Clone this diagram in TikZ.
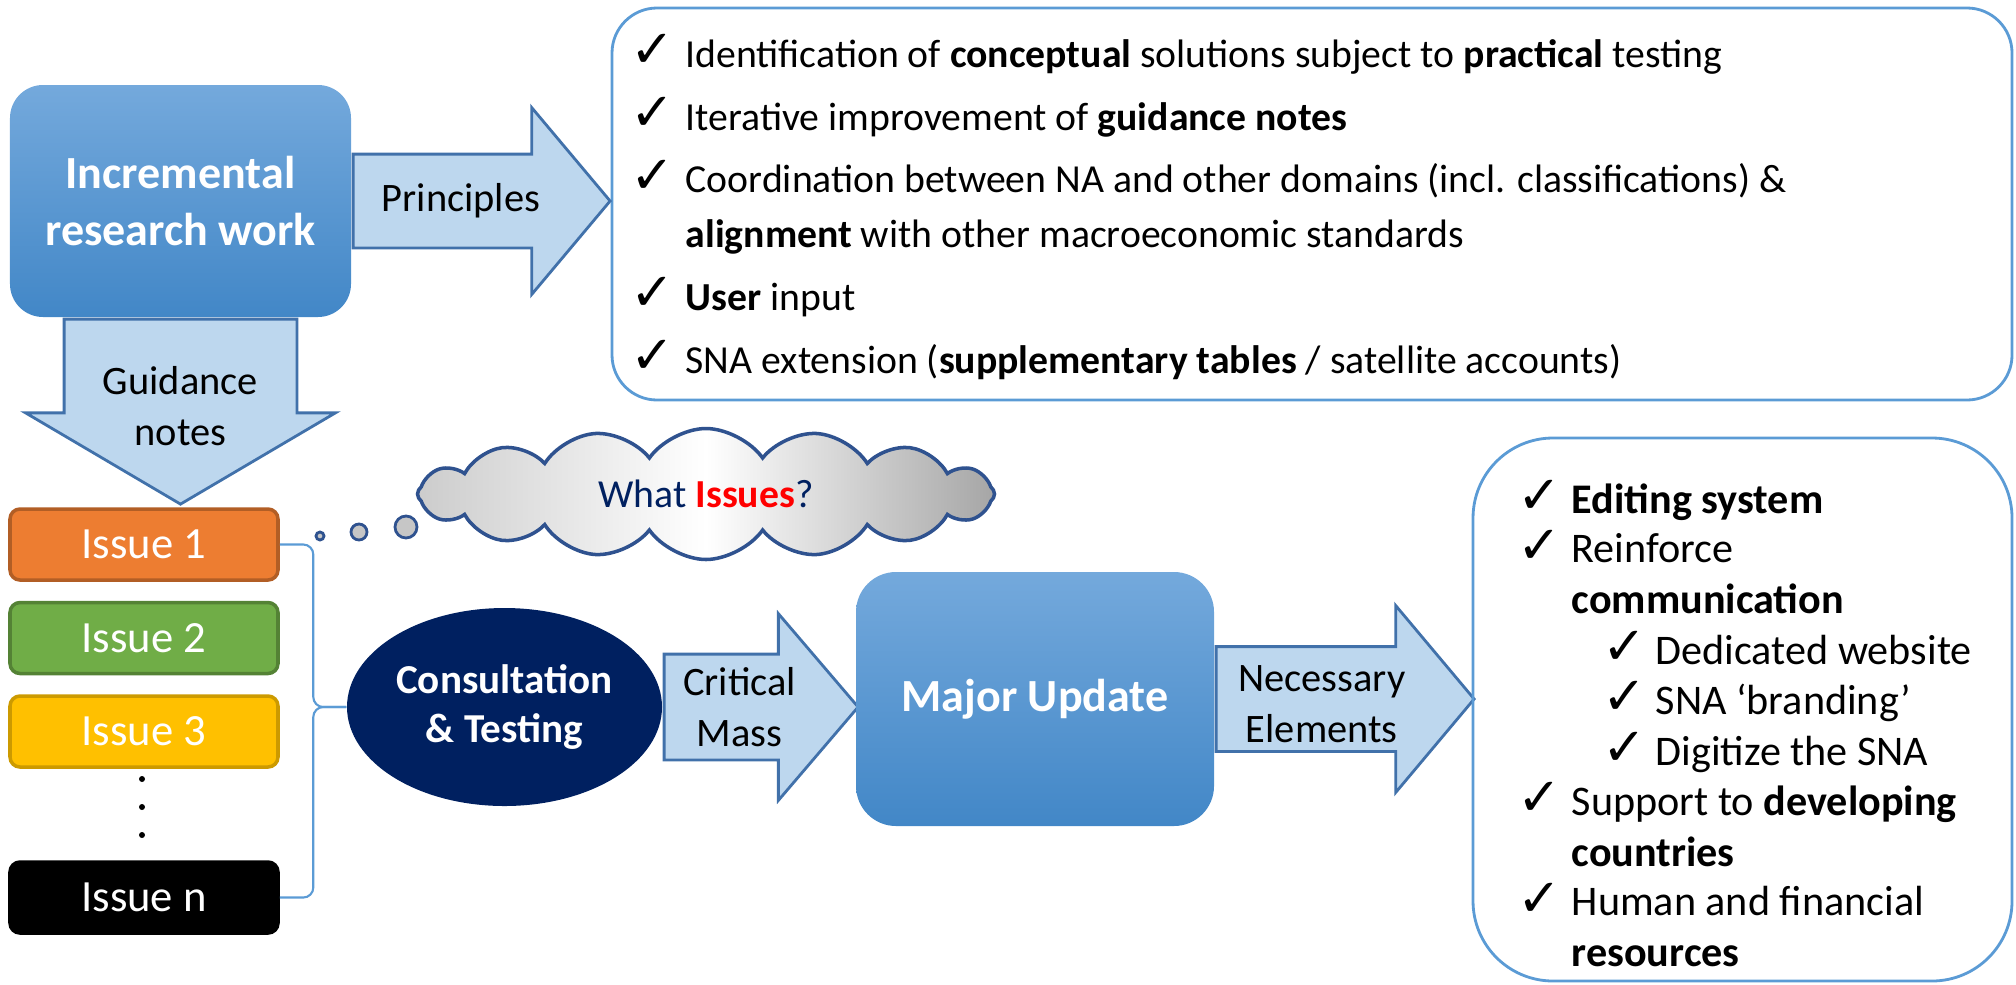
\documentclass[tikz,border=0pt]{standalone}
\usepackage{fontspec}
\setmainfont{Carlito}
\newfontfamily\symfont{DejaVu Sans}
\usetikzlibrary{shapes.geometric,shapes.arrows,shapes.symbols,calc}

\definecolor{boxtop}{RGB}{116,169,220}
\definecolor{boxbot}{RGB}{66,135,199}
\definecolor{arrowfill}{RGB}{189,215,238}
\definecolor{arrowline}{RGB}{65,113,170}
\definecolor{listline}{RGB}{91,155,213}
\definecolor{navy}{RGB}{0,32,96}
\definecolor{cloudline}{RGB}{47,82,143}
\definecolor{issueorange}{RGB}{237,125,49}
\definecolor{issuegreen}{RGB}{112,173,71}
\definecolor{issueyellow}{RGB}{255,192,0}

\newcommand{\tickmark}{{\symfont\fontsize{15}{15}\selectfont ✓}}

\begin{document}
\begin{tikzpicture}[
  mainbox/.style={rounded corners=0.33cm,top color=boxtop,bottom color=boxbot,text=white,
    font=\fontsize{13.1}{16.2}\selectfont\bfseries,align=center,inner sep=0pt},
  barrow/.style={single arrow,draw=arrowline,fill=arrowfill,line width=0.8pt,inner xsep=0pt,anchor=tail},
  atext/.style={font=\fontsize{11.5}{14.6}\selectfont,align=center,inner sep=0pt},
  issue/.style={rounded corners=0.1cm,minimum width=2.68cm,minimum height=0.71cm,text=white,
    font=\fontsize{12.7}{15}\selectfont,line width=1pt,inner sep=0pt},
  listbox/.style={draw=listline,line width=0.8pt,inner sep=0pt},
  chk/.style={anchor=base west,inner sep=0pt},
  pitem/.style={anchor=base west,inner sep=0pt,align=left,font=\fontsize{11.3}{15.4}\selectfont},
  ritem/.style={anchor=base west,inner sep=0pt,align=left,font=\fontsize{12}{14.35}\selectfont},
  thought/.style={circle,draw=cloudline,fill=gray!45,line width=0.8pt,inner sep=0pt},
  issuebrace/.style={draw=listline,line width=0.6pt,rounded corners=0.1cm}
]
\useasboundingbox (0,0) rectangle (20.16,-9.84);

\node[mainbox,minimum width=3.41cm,minimum height=2.32cm] (inc) at (1.805,-2.01) {Incremental\\research work};
\node[listbox,rounded corners=0.45cm,minimum width=14.0cm,minimum height=3.92cm] (plist) at (13.12,-2.04) {};

\node[barrow,minimum height=2.57cm,inner ysep=0.455cm,single arrow head extend=0.465cm,single arrow tip angle=100] (parr) at (inc.east) {};
\node[atext] (ptext) at ($(parr.tail)!0.42!(parr.tip)$) {Principles};
\node[barrow,rotate=270,minimum height=1.85cm,inner ysep=1.15cm,single arrow head extend=0.385cm,single arrow tip angle=119] (garr) at (inc.south) {};
\node[atext] (gtext) at ($(garr.tail)!0.47!(garr.tip)$) {Guidance\\notes};

\node[chk] (pc1) at (6.30,-0.67) {\tickmark};
\node[pitem] (p1) at (6.85,-0.67) {Identification of \textbf{conceptual} solutions subject to \textbf{practical} testing};
\node[chk] (pc2) at (6.30,-1.30) {\tickmark};
\node[pitem] (p2) at (6.85,-1.30) {Iterative improvement of \textbf{guidance notes}};
\node[chk] (pc3) at (6.30,-1.93) {\tickmark};
\node[pitem] (p3) at (6.85,-2.47) {Coordination between NA and other domains (incl. classifications) \&\\\textbf{alignment} with other macroeconomic standards};
\node[chk] (pc4) at (6.30,-3.10) {\tickmark};
\node[pitem] (p4) at (6.85,-3.10) {\textbf{User} input};
\node[chk] (pc5) at (6.30,-3.73) {\tickmark};
\node[pitem] (p5) at (6.85,-3.73) {SNA extension (\textbf{supplementary tables} / satellite accounts)};

\node[issue,fill=issueorange,draw=issueorange!75!black] (i1) at (1.44,-5.445) {Issue 1};
\node[issue,fill=issuegreen,draw=issuegreen!75!black] (i2) at (1.44,-6.38) {Issue 2};
\node[issue,fill=issueyellow,draw=issueyellow!80!black] (i3) at (1.44,-7.315) {Issue 3};
\node[issue,fill=black,draw=black] (in) at (1.44,-8.975) {Issue n};
\foreach \y [count=\i] in {-7.79,-8.07,-8.35}
  \node[circle,fill=black,minimum size=0.06cm,inner sep=0pt] (dot\i) at (1.42,\y) {};

\node[thought,minimum size=0.08cm] (t1) at (3.20,-5.36) {};
\node[thought,minimum size=0.16cm] (t2) at (3.59,-5.32) {};
\node[thought,minimum size=0.22cm] (t3) at (4.06,-5.27) {};
\node[cloud,draw=cloudline,line width=1pt,left color=gray!40,right color=gray!70,middle color=white,
  cloud puffs=16,cloud puff arc=110,aspect=4.4,minimum width=5.77cm,minimum height=1.31cm,inner sep=0pt,
  font=\fontsize{11.3}{14}\selectfont] (cloud) at (7.06,-4.94)
  {\textcolor{navy}{What} \textcolor{red}{\textbf{Issues}}\textcolor{navy}{?}};

\node[ellipse,fill=navy,minimum width=3.15cm,minimum height=1.98cm,inner sep=0pt,text=white,
  font=\fontsize{11.7}{14.2}\selectfont\bfseries,align=center] (ct) at (5.045,-7.07) {Consultation\\\& Testing};
\draw[issuebrace] (i1.east) -| ($(ct.west)+(-0.33,0)$) -- (ct.west);
\draw[issuebrace] (ct.west) -- ++(-0.33,0) |- (in.east);

\node[barrow,minimum height=1.94cm,inner ysep=0.515cm,single arrow head extend=0.405cm,single arrow tip angle=99] (carr) at (ct.east) {};
\node[atext] (ctext) at ($(carr.tail)!0.39!(carr.tip)$) {Critical\\Mass};

\node[mainbox,rounded corners=0.4cm,minimum width=3.58cm,minimum height=2.54cm] (major) at (10.35,-6.99) {Major Update};

\node[barrow,minimum height=2.58cm,inner ysep=0.51cm,single arrow head extend=0.41cm,single arrow tip angle=100] (narr) at (major.east) {};
\node[atext] (ntext) at ($(narr.tail)!0.41!(narr.tip)+(0,-0.05)$) {Necessary\\Elements};

\node[listbox,rounded corners=0.8cm,minimum width=5.39cm,minimum height=5.43cm] (rlist) at (17.425,-7.095) {};
\node[chk] (rc1) at (15.17,-5.13) {\tickmark};
\node[ritem] (r1) at (15.71,-5.13) {\textbf{Editing system}};
\node[chk] (rc2) at (15.17,-5.63) {\tickmark};
\node[ritem] (r2) at (15.71,-6.13) {Reinforce\\\textbf{communication}};
\node[chk] (rc3) at (16.02,-6.64) {\tickmark};
\node[ritem] (r3) at (16.55,-6.64) {Dedicated website};
\node[chk] (rc4) at (16.02,-7.14) {\tickmark};
\node[ritem] (r4) at (16.55,-7.14) {SNA ‘branding’};
\node[chk] (rc5) at (16.02,-7.65) {\tickmark};
\node[ritem] (r5) at (16.55,-7.65) {Digitize the SNA};
\node[chk] (rc6) at (15.17,-8.15) {\tickmark};
\node[ritem] (r6) at (15.71,-8.66) {Support to \textbf{developing}\\\textbf{countries}};
\node[chk] (rc7) at (15.17,-9.16) {\tickmark};
\node[ritem] (r7) at (15.71,-9.66) {Human and financial\\\textbf{resources}};
\end{tikzpicture}
\end{document}
